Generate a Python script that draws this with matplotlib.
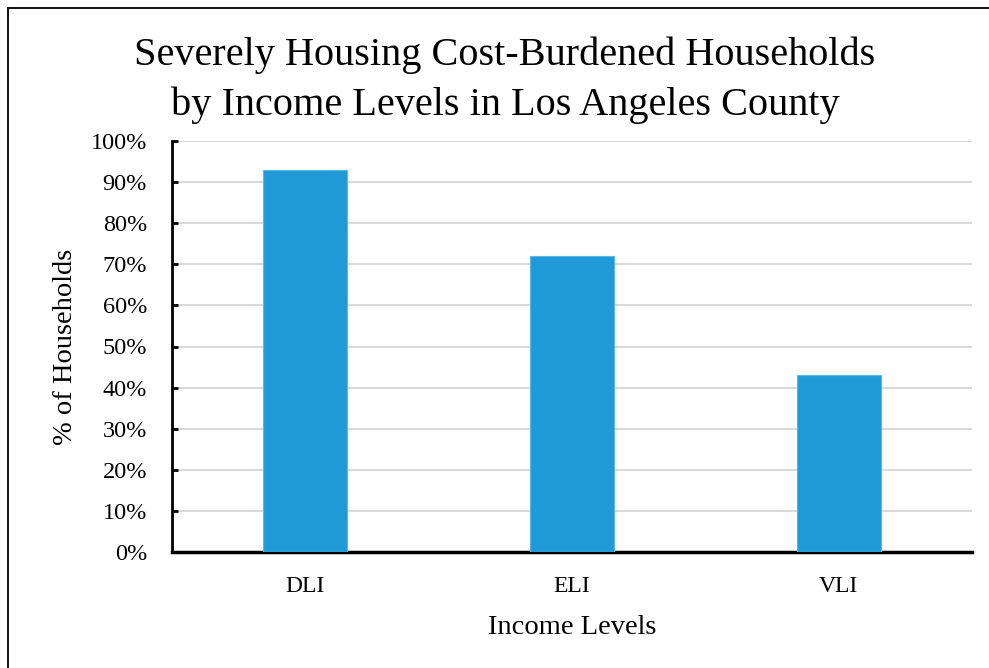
import matplotlib
matplotlib.use('Agg')
import numpy as np
import matplotlib.pyplot as plt
from matplotlib import rcParams
from matplotlib.lines import Line2D
from matplotlib.ticker import PercentFormatter

levels = ["DLI", "ELI", "VLI"]
pct_households = [93, 72, 43]
yticks = list(range(0, 101, 10))

rcParams.update({
    'font.family': ['Liberation Serif', 'DejaVu Serif'],
    'font.size': 14,
})

fig = plt.figure(figsize=(9.89, 6.68), dpi=100)
ax = fig.add_axes([172 / 989, 1 - 552 / 668, 800 / 989, 411 / 668])

# the chart box is cropped: only its top and left edges show
fx, fy = 8 / 989, 1 - 7.5 / 668
fig.lines.append(Line2D([fx, 1.0], [fy, fy], transform=fig.transFigure,
                        color='#111111', linewidth=1.4))
fig.lines.append(Line2D([fx, fx], [0.0, fy], transform=fig.transFigure,
                        color='#111111', linewidth=1.4))

x = np.arange(len(levels))
ax.bar(x, pct_households, width=0.315, color='#1F9AD6',
       edgecolor='#5BB8E6', linewidth=0.8, zorder=3)

ax.set_xlim(-0.5, len(levels) - 0.5)
ax.set_ylim(0, 100)
ax.set_yticks(yticks)
ax.yaxis.set_major_formatter(PercentFormatter(decimals=0))
ax.set_xticks(x)
ax.set_xticklabels(levels)
ax.tick_params(axis='x', length=0, pad=17, labelsize=17)
ax.tick_params(axis='y', length=4, width=2, direction='in', pad=18, labelsize=17.5)

ax.grid(axis='y', color='#d9d9d9', linewidth=1.5, zorder=0)
ax.spines['top'].set_visible(False)
ax.spines['right'].set_visible(False)
ax.spines['left'].set_linewidth(2)
ax.spines['bottom'].set_linewidth(2.5)

ax.set_ylabel('% of Households', fontsize=20.5, va='center')
ax.set_xlabel('Income Levels', fontsize=20.5, va='center')
ax.yaxis.set_label_coords((65 - 172) / 800, 0.5)
ax.xaxis.set_label_coords(0.5, (552 - 627) / 411)

fig.text(505 / 989, 1 - 80 / 668,
         'Severely Housing Cost-Burdened Households\nby Income Levels in Los Angeles County',
         ha='center', va='center', fontsize=29, linespacing=1.45)

plt.savefig('out.png', dpi=100)
